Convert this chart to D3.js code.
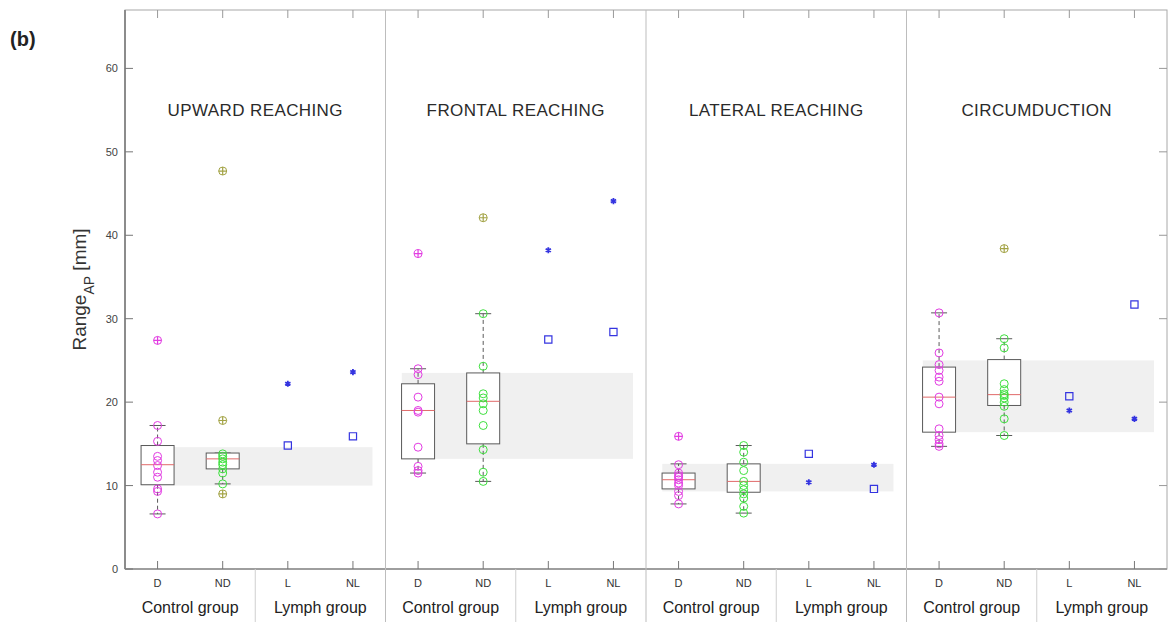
<!DOCTYPE html>
<html>
<head>
<meta charset="utf-8">
<script src="https://cdn.jsdelivr.net/npm/d3@7"></script>
<style>
    body { margin: 0; background: #fff; }
    text { font-family: "Liberation Sans", Arial, sans-serif; }
</style>
</head>
<body>
<div id="chart"></div>
<script>
// Panel titles and axis labels
const panels = ['UPWARD REACHING', 'FRONTAL REACHING', 'LATERAL REACHING', 'CIRCUMDUCTION'];
const conditions = ['D', 'ND', 'L', 'NL'];
const groups = ['Control group', 'Lymph group'];
const yTicks = [0, 10, 20, 30, 40, 50, 60];

// Control group, dominant side: individual values per panel
const dPoints = [
    [17.2, 15.3, 13.5, 13.0, 12.4, 11.6, 11.0, 9.6, 9.3, 6.6],
    [24.0, 23.3, 20.6, 19.0, 18.8, 14.6, 12.3, 11.8, 11.5],
    [12.5, 11.5, 11.2, 11.0, 10.7, 10.3, 10.0, 9.3, 8.8, 7.8],
    [30.7, 25.9, 24.5, 23.8, 23.0, 22.5, 20.6, 19.8, 16.8, 16.0, 15.5, 15.0, 14.7]
];
// Control group, non-dominant side
const ndPoints = [
    [13.8, 13.5, 13.2, 12.8, 12.5, 12.0, 11.5, 10.2],
    [30.6, 24.3, 21.0, 20.5, 19.8, 19.0, 17.2, 14.3, 11.6, 10.5],
    [14.8, 14.0, 12.8, 11.8, 10.5, 10.0, 9.5, 9.0, 8.5, 7.5, 6.7],
    [27.6, 26.5, 22.2, 21.5, 21.0, 20.8, 20.5, 20.0, 19.5, 18.0, 16.0]
];
// box stats: [lower whisker, q1, median, q3, upper whisker]
const dBox = [
    [6.6, 10.1, 12.5, 14.8, 17.2],
    [11.5, 13.2, 19.0, 22.2, 24.0],
    [7.8, 9.6, 10.7, 11.5, 12.6],
    [14.7, 16.4, 20.6, 24.2, 30.7]
];
const ndBox = [
    [10.2, 12.0, 13.2, 13.9, 13.9],
    [10.5, 15.0, 20.1, 23.5, 30.6],
    [6.7, 9.2, 10.5, 12.6, 14.8],
    [16.0, 19.6, 20.9, 25.1, 27.6]
];
const dOutliers = [[27.4], [37.8], [15.9], []];
const ndOutliers = [[47.7, 17.8, 9.0], [42.1], [], [38.4]];

// Lymph group values
const lAsterisk = [22.2, 38.2, 10.4, 19.0];
const lSquare = [14.8, 27.5, 13.8, 20.7];
const nlAsterisk = [23.6, 44.1, 12.5, 18.0];
const nlSquare = [15.9, 28.4, 9.6, 31.7];

// shaded reference band per panel
const bandLow = [10.0, 13.2, 9.3, 16.4];
const bandHigh = [14.6, 23.5, 12.6, 25.0];

const width = 1173;
const height = 622;
const plotLeft = 125, plotRight = 1167, plotTop = 10, plotBottom = 569;

const svg = d3.select('#chart').append('svg')
    .attr('width', width)
    .attr('height', height);

const x = d3.scaleLinear().domain([0, 16]).range([plotLeft, plotRight]);
const y = d3.scaleLinear().domain([0, 67]).range([plotBottom, plotTop]);

const pos = (p, c) => x(p * 4 + c + 0.5);
const boxW = 33;
const capW = 16;

const magenta = '#e23ce2';
const green = '#3ee03e';
const olive = '#a3a345';
const blue = '#3434e0';
const boxColor = '#5a5a5a';

// bands
svg.append('g')
    .selectAll('rect')
    .data(panels)
    .enter().append('rect')
    .attr('x', (d, i) => x(i * 4 + 0.25))
    .attr('width', x(3.55) - x(0))
    .attr('y', (d, i) => y(bandHigh[i]))
    .attr('height', (d, i) => y(bandLow[i]) - y(bandHigh[i]))
    .attr('fill', '#f0f0f0');

// frame
svg.append('rect')
    .attr('x', plotLeft).attr('y', plotTop)
    .attr('width', plotRight - plotLeft).attr('height', plotBottom - plotTop)
    .attr('fill', 'none')
    .attr('stroke', '#a8a8a8')
    .attr('stroke-width', 1);
svg.append('line')
    .attr('x1', plotLeft).attr('x2', plotLeft)
    .attr('y1', plotTop).attr('y2', plotBottom)
    .attr('stroke', '#8c8c8c').attr('stroke-width', 2);
svg.append('line')
    .attr('x1', plotLeft).attr('x2', plotRight)
    .attr('y1', plotBottom).attr('y2', plotBottom)
    .attr('stroke', '#8c8c8c').attr('stroke-width', 1.5);

// panel separators (full height) and group separators (below axis)
for (let p = 1; p < 4; p++) {
    svg.append('line')
        .attr('x1', x(p * 4)).attr('x2', x(p * 4))
        .attr('y1', plotTop).attr('y2', height)
        .attr('stroke', '#bdbdbd');
}
for (let p = 0; p < 4; p++) {
    svg.append('line')
        .attr('x1', x(p * 4 + 2)).attr('x2', x(p * 4 + 2))
        .attr('y1', plotBottom).attr('y2', height)
        .attr('stroke', '#cfcfcf');
}

// y axis ticks and labels
const yAxis = svg.append('g');
yTicks.forEach(t => {
    yAxis.append('line')
        .attr('x1', plotLeft).attr('x2', plotLeft + 8)
        .attr('y1', y(t)).attr('y2', y(t))
        .attr('stroke', '#777');
    yAxis.append('line')
        .attr('x1', plotRight).attr('x2', plotRight - 8)
        .attr('y1', y(t)).attr('y2', y(t))
        .attr('stroke', '#999');
    yAxis.append('text')
        .attr('x', plotLeft - 7)
        .attr('y', y(t) + 4)
        .attr('text-anchor', 'end')
        .attr('font-size', 11)
        .attr('fill', '#444')
        .text(t);
});

svg.append('text')
    .attr('transform', `translate(86,${y(33.5)}) rotate(-90)`)
    .attr('text-anchor', 'middle')
    .attr('font-size', 19)
    .attr('fill', '#333')
    .html('Range<tspan baseline-shift="sub" font-size="14">AP</tspan> [mm]');

svg.append('text')
    .attr('x', 10).attr('y', 46)
    .attr('font-size', 20)
    .attr('font-weight', 'bold')
    .attr('fill', '#222')
    .text('(b)');

// x ticks, condition labels, group labels
for (let p = 0; p < 4; p++) {
    conditions.forEach((c, ci) => {
        const cx = pos(p, ci);
        svg.append('line')
            .attr('x1', cx).attr('x2', cx)
            .attr('y1', plotBottom).attr('y2', plotBottom - 8)
            .attr('stroke', '#777');
        svg.append('line')
            .attr('x1', cx).attr('x2', cx)
            .attr('y1', plotTop).attr('y2', plotTop + 8)
            .attr('stroke', '#999');
        svg.append('text')
            .attr('x', cx).attr('y', 587)
            .attr('text-anchor', 'middle')
            .attr('font-size', 11)
            .attr('fill', '#333')
            .text(c);
    });
    groups.forEach((g, gi) => {
        svg.append('text')
            .attr('x', x(p * 4 + gi * 2 + 1)).attr('y', 613)
            .attr('text-anchor', 'middle')
            .attr('font-size', 16)
            .attr('fill', '#222')
            .text(g);
    });
    svg.append('text')
        .attr('x', x(p * 4 + 2)).attr('y', 116)
        .attr('text-anchor', 'middle')
        .attr('font-family', '"Open Sans", sans-serif')
        .attr('font-size', 17)
        .attr('letter-spacing', 0.4)
        .attr('fill', '#2a2a2a')
        .text(panels[p]);
}

function drawBox(p, ci, stats, points, outliers, color, outColor) {
    const cx = pos(p, ci);
    const [lo, q1, med, q3, hi] = stats;
    const g = svg.append('g');
    // whiskers
    g.append('line')
        .attr('x1', cx).attr('x2', cx)
        .attr('y1', y(q3)).attr('y2', y(hi))
        .attr('stroke', boxColor).attr('stroke-dasharray', '4,3');
    g.append('line')
        .attr('x1', cx).attr('x2', cx)
        .attr('y1', y(q1)).attr('y2', y(lo))
        .attr('stroke', boxColor).attr('stroke-dasharray', '4,3');
    [lo, hi].forEach(v => {
        g.append('line')
            .attr('x1', cx - capW / 2).attr('x2', cx + capW / 2)
            .attr('y1', y(v)).attr('y2', y(v))
            .attr('stroke', boxColor);
    });
    g.append('rect')
        .attr('x', cx - boxW / 2).attr('width', boxW)
        .attr('y', y(q3)).attr('height', y(q1) - y(q3))
        .attr('fill', '#fff')
        .attr('stroke', boxColor);
    g.append('line')
        .attr('x1', cx - boxW / 2).attr('x2', cx + boxW / 2)
        .attr('y1', y(med)).attr('y2', y(med))
        .attr('stroke', '#e06a6a');
    // individual points
    g.selectAll('circle.pt')
        .data(points)
        .enter().append('circle')
        .attr('class', 'pt')
        .attr('cx', cx).attr('cy', d => y(d))
        .attr('r', 4)
        .attr('fill', 'none')
        .attr('stroke', color);
    // outliers: circle with plus mark
    g.selectAll('circle.out')
        .data(outliers)
        .enter().append('circle')
        .attr('class', 'out')
        .attr('cx', cx).attr('cy', d => y(d))
        .attr('r', 4)
        .attr('fill', 'none')
        .attr('stroke', outColor);
    g.selectAll('path.out')
        .data(outliers)
        .enter().append('path')
        .attr('class', 'out')
        .attr('d', d => `M${cx - 4},${y(d)}H${cx + 4}M${cx},${y(d) - 4}V${y(d) + 4}`)
        .attr('stroke', outColor)
        .attr('stroke-width', 1.2);
}

const asterisk = d3.symbol(d3.symbolAsterisk, 26);
const square = d3.symbol(d3.symbolSquare, 52);

function drawLymph(p, ci, starVal, sqVal) {
    const cx = pos(p, ci);
    svg.append('path')
        .attr('d', asterisk())
        .attr('transform', `translate(${cx},${y(starVal)})`)
        .attr('fill', 'none')
        .attr('stroke', blue)
        .attr('stroke-width', 1.8);
    svg.append('path')
        .attr('d', square())
        .attr('transform', `translate(${cx},${y(sqVal)})`)
        .attr('fill', 'none')
        .attr('stroke', blue)
        .attr('stroke-width', 1.2);
}

panels.forEach((name, p) => {
    drawBox(p, 0, dBox[p], dPoints[p], dOutliers[p], magenta, magenta);
    drawBox(p, 1, ndBox[p], ndPoints[p], ndOutliers[p], green, olive);
    drawLymph(p, 2, lAsterisk[p], lSquare[p]);
    drawLymph(p, 3, nlAsterisk[p], nlSquare[p]);
});
</script>
</body>
</html>
